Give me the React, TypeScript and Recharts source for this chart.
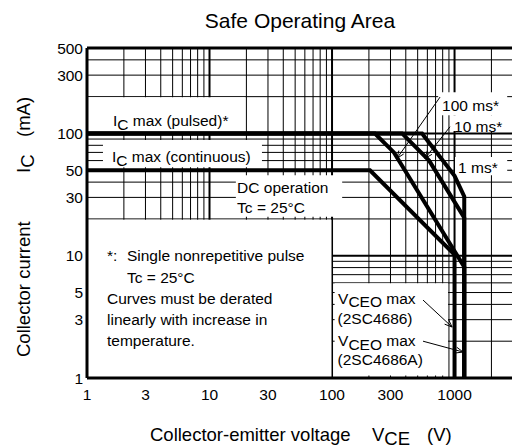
import React from 'react';
import {
  ComposedChart,
  Line,
  XAxis,
  YAxis,
  CartesianGrid,
  ReferenceArea,
  ReferenceLine,
  ReferenceDot,
} from 'recharts';

const FONT = '"Liberation Sans", Arial, Helvetica, sans-serif';

// axis ticks
const xTicks = [1, 3, 10, 30, 100, 300, 1000];
const yTicks = [1, 3, 5, 10, 30, 50, 100, 300, 500];

// log grid
const xGridMinor = [2, 3, 4, 5, 6, 7, 8, 9, 20, 30, 40, 50, 60, 70, 80, 90, 200, 300, 400, 500, 600, 700, 800, 900, 2000];
const xGridMajor = [10, 100, 1000];
const yGridMinor = [2, 3, 4, 5, 6, 7, 8, 9, 20, 30, 40, 50, 60, 70, 80, 90, 200, 300, 400];
const yGridMajor = [10, 100];

// curves: V_CE (V) / I_C (mA)
const dcV = [1, 204, 1000, 1000];
const dcI = [50, 50, 10.2, 1];
const ms100V = [1, 224, 320, 1200, 1200];
const ms100I = [100, 100, 70, 8.1, 1];
const ms10V = [1, 373, 620, 1200, 1200];
const ms10I = [100, 100, 60, 20.5, 1];
const ms1V = [1, 543, 1000, 1200, 1200];
const ms1I = [100, 100, 45, 30.5, 1];

// white backgrounds behind the labels
const boxes = [
  { x1: 1, x2: 19.5, y1: 100, y2: 198 },
  { x1: 1.35, x2: 26.8, y1: 53, y2: 88.5 },
  { x1: 16.4, x2: 121, y1: 20.8, y2: 45.6 },
  { x1: 1, x2: 99, y1: 1, y2: 19.7 },
  { x1: 105, x2: 885, y1: 1.05, y2: 5.95 },
  { x1: 735, x2: 2690, y1: 141, y2: 217 },
  { x1: 919, x2: 2690, y1: 104.6, y2: 141 },
  { x1: 1009, x2: 2690, y1: 45.6, y2: 64.1 },
];

// leader arrows
const arrows = [
  [{ x: 762, y: 198.6 }, { x: 339, y: 62.6 }],
  [{ x: 919, y: 113.5 }, { x: 574, y: 62.6 }],
  [{ x: 553, y: 4.34 }, { x: 955, y: 2.61 }],
  [{ x: 553, y: 2.0 }, { x: 1176, y: 1.63 }],
];

const toPoints = (v: number[], i: number[]) => v.map((x, k) => ({ v: x, i: i[k] }));

const arrowShape = (p: any) => {
  const { x1, y1, x2, y2 } = p;
  const a = Math.atan2(y2 - y1, x2 - x1);
  const len = 8;
  const w = 0.38;
  const ax = x2 - len * Math.cos(a - w);
  const ay = y2 - len * Math.sin(a - w);
  const bx = x2 - len * Math.cos(a + w);
  const by = y2 - len * Math.sin(a + w);
  return (
    <g>
      <line x1={x1} y1={y1} x2={x2} y2={y2} stroke="#000" strokeWidth={1} />
      <polyline points={`${ax},${ay} ${x2},${y2} ${bx},${by}`} fill="none" stroke="#000" strokeWidth={1} />
    </g>
  );
};

const label = (key: string, x: number, y: number, content: React.ReactNode) => (
  <ReferenceDot
    key={key}
    x={x}
    y={y}
    r={0}
    ifOverflow="visible"
    zIndex={2000}
    shape={(p: any) => (
      <text x={p.cx} y={p.cy} fontSize={15.5} fontFamily={FONT} fill="#000">
        {content}
      </text>
    )}
  />
);

const curveProps = {
  type: 'linear' as const,
  dataKey: 'i',
  stroke: '#000',
  strokeWidth: 4,
  dot: false,
  activeDot: false,
  isAnimationActive: false,
  zIndex: 400,
};

export default function App() {
  return (
    <div style={{ position: 'absolute', left: 0, top: 0, width: 512, height: 448, overflow: 'hidden', background: '#fff' }}>
      <ComposedChart width={513} height={448} margin={{ top: 48, right: 0, bottom: 40, left: 0 }}>
        <CartesianGrid horizontalValues={yGridMinor} verticalValues={xGridMinor} stroke="#000" strokeWidth={1} />
        <CartesianGrid horizontalValues={yGridMajor} verticalValues={xGridMajor} stroke="#000" strokeWidth={2} />
        <XAxis
          dataKey="v"
          type="number"
          scale="log"
          domain={[1, 3000]}
          ticks={xTicks}
          interval={0}
          allowDataOverflow
          height={30}
          tickLine={false}
          tickSize={0}
          tickMargin={11}
          axisLine={{ stroke: '#000', strokeWidth: 3 }}
          tick={{ fill: '#000', fontSize: 15.5, fontFamily: FONT }}
        />
        <YAxis
          type="number"
          scale="log"
          domain={[1, 500]}
          ticks={yTicks}
          interval={0}
          allowDataOverflow
          width={87}
          tickLine={false}
          tickSize={0}
          tickMargin={4}
          axisLine={{ stroke: '#000', strokeWidth: 3 }}
          tick={{ fill: '#000', fontSize: 15.5, fontFamily: FONT }}
        />
        {boxes.map((b, k) => (
          <ReferenceArea
            key={`box${k}`}
            x1={b.x1}
            x2={b.x2}
            y1={b.y1}
            y2={b.y2}
            fill="#fff"
            fillOpacity={1}
            stroke="none"
            ifOverflow="hidden"
            zIndex={50}
          />
        ))}
        <ReferenceLine y={500} stroke="#000" strokeWidth={3} ifOverflow="visible" />
        <Line {...curveProps} data={toPoints(dcV, dcI)} />
        <Line {...curveProps} data={toPoints(ms100V, ms100I)} />
        <Line {...curveProps} data={toPoints(ms10V, ms10I)} />
        <Line {...curveProps} data={toPoints(ms1V, ms1I)} />
        {arrows.map((s, k) => (
          <ReferenceLine key={`ar${k}`} segment={s} ifOverflow="visible" shape={arrowShape} zIndex={1500} />
        ))}
        {label('pulsed', 1.63, 116, <>I<tspan dy={4}>C</tspan><tspan dy={-4}> max (pulsed)*</tspan></>)}
        {label('cont', 1.6, 58.9, <>I<tspan dy={4}>C</tspan><tspan dy={-4}> max (continuous)</tspan></>)}
        {label('dc1', 16.8, 32.6, 'DC operation')}
        {label('dc2', 16.8, 22.4, 'Tc = 25°C')}
        {label('n0', 1.457, 9.14, '*:')}
        {label('n1', 2.12, 9.14, 'Single nonrepetitive pulse')}
        {label('n2', 2.12, 6.04, 'Tc = 25°C')}
        {label('n3', 1.457, 4.03, 'Curves must be derated')}
        {label('n4', 1.457, 2.71, 'linearly with increase in')}
        {label('n5', 1.457, 1.84, 'temperature.')}
        {label('v1', 112, 4.03, <>V<tspan dy={3.5}>CEO</tspan><tspan dy={-3.5}> max</tspan></>)}
        {label('v2', 111, 2.76, '(2SC4686)')}
        {label('v3', 112, 1.82, <>V<tspan dy={3.5}>CEO</tspan><tspan dy={-3.5}> max</tspan></>)}
        {label('v4', 111, 1.27, '(2SC4686A)')}
        {label('p100', 791, 154, '100 ms*')}
        {label('p10', 991, 103.6, '10 ms*')}
        {label('p1', 1069, 47.9, '1 ms*')}
      </ComposedChart>
      <svg
        width={512}
        height={448}
        style={{ position: 'absolute', left: 0, top: 0, pointerEvents: 'none' }}
        fontFamily={FONT}
        fill="#000"
      >
        <text x={300} y={28} textAnchor="middle" fontSize={21}>Safe Operating Area</text>
        <text x={150} y={441} fontSize={18.5}>Collector-emitter voltage</text>
        <text x={372} y={441} fontSize={18.5}>V<tspan dy={4}>CE</tspan></text>
        <text x={427} y={441} fontSize={18.5}>(V)</text>
        <text x={30} y={357} fontSize={18.5} transform="rotate(-90 30 357)">Collector current</text>
        <text x={30} y={173} fontSize={18.5} transform="rotate(-90 30 173)">I<tspan dy={4}>C</tspan></text>
        <text x={30} y={137} fontSize={18.5} transform="rotate(-90 30 137)">(mA)</text>
      </svg>
    </div>
  );
}
